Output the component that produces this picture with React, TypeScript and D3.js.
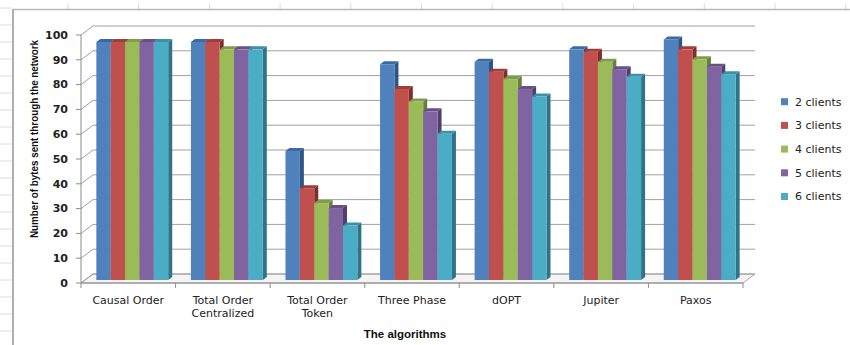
import React from "react";
import * as d3 from "d3";

const categories: string[][] = [
  ["Causal Order"],
  ["Total Order", "Centralized"],
  ["Total Order", "Token"],
  ["Three Phase"],
  ["dOPT"],
  ["Jupiter"],
  ["Paxos"],
];
const seriesNames = ["2 clients", "3 clients", "4 clients", "5 clients", "6 clients"];
const clients2 = [96, 96, 52, 87, 88, 93, 97];
const clients3 = [96, 96, 37, 77, 84, 92, 93];
const clients4 = [96, 93, 31, 72, 81, 88, 89];
const clients5 = [96, 93, 29, 68, 77, 85, 86];
const clients6 = [96, 93, 22, 59, 74, 82, 83];
const yTicks = [0, 10, 20, 30, 40, 50, 60, 70, 80, 90, 100];

const fronts = ["#4F81BD", "#C0504D", "#9BBB59", "#8064A2", "#4BACC6"];
const sides = ["#2E5684", "#7F2E2C", "#66803A", "#523F6E", "#2F7387"];
const tops = ["#3A6AA3", "#9E3D3A", "#7F9C48", "#684F88", "#3A92AA"];

const W = 850;
const H = 345;
const x0 = 81;
const x1 = 743;
const baseFront = 283;
const wallDx = 12;
const wallDy = -9;
const barDx = 4;
const barDy = -3;
const sideDx = 4;
const sideDy = -3;
const FONT = "'DejaVu Sans', sans-serif";

export default function App() {
  const series = [clients2, clients3, clients4, clients5, clients6];
  const idx = categories.map((_, i) => i);
  const xBand = d3.scaleBand<number>().domain(idx).range([x0, x1]).paddingInner(0.24).paddingOuter(0.12);
  const xCat = d3.scaleBand<number>().domain(idx).range([x0, x1]);
  const xSub = d3.scaleBand<number>().domain(d3.range(5)).range([0, xBand.bandwidth()]);
  const y = d3.scaleLinear().domain([0, 100]).range([0, 248]);

  const yFront = (v: number) => baseFront - y(v);
  const yBack = (v: number) => baseFront + wallDy - y(v);
  const yBar = (v: number) => baseFront + barDy - y(v);

  const bars: React.ReactNode[] = [];
  idx.forEach((ci) => {
    series.forEach((s, si) => {
      const v = s[ci];
      const bx = (xBand(ci) as number) + barDx + xSub(si)!;
      const bw = xSub.bandwidth();
      const top = yBar(v);
      const base = yBar(0);
      bars.push(
        <g key={`b${ci}-${si}`}>
          <polygon
            points={`${bx + bw},${top} ${bx + bw + sideDx},${top + sideDy} ${bx + bw + sideDx},${base + sideDy} ${bx + bw},${base}`}
            fill={sides[si]}
          />
          <polygon
            points={`${bx},${top} ${bx + sideDx},${top + sideDy} ${bx + bw + sideDx},${top + sideDy} ${bx + bw},${top}`}
            fill={tops[si]}
          />
          <rect x={bx} y={top} width={bw} height={base - top} fill={fronts[si]} />
        </g>
      );
    });
  });

  const sheetCols = d3.range(68, W, 70.7);
  const sheetRows = d3.range(8, H, 17);

  return (
    <svg width={W} height={H} style={{ position: "absolute", left: 0, top: 0, background: "#fff" }}>
      {sheetCols.map((cx, i) => (
        <line key={`sc${i}`} x1={cx} x2={cx} y1={3} y2={9} stroke="#d6dde9" strokeWidth={1} />
      ))}
      {sheetRows.map((ry, i) => (
        <line key={`sr${i}`} x1={0} x2={12} y1={ry} y2={ry} stroke="#d6dde9" strokeWidth={1} />
      ))}
      <line x1={13} x2={W} y1={9.5} y2={9.5} stroke="#b8b8b8" strokeWidth={1.5} />
      <line x1={13} x2={13} y1={9} y2={H} stroke="#b0b0b0" strokeWidth={2} />

      <polygon
        points={`${x0},${baseFront} ${x0 + wallDx},${baseFront + wallDy} ${x1 + wallDx},${baseFront + wallDy} ${x1},${baseFront}`}
        fill="#f4f4f4"
        stroke="#a6a6a6"
        strokeWidth={1}
      />
      {yTicks.map((t) => (
        <g key={`g${t}`}>
          <line x1={x0 + wallDx} x2={x1 + wallDx} y1={yBack(t)} y2={yBack(t)} stroke="#a0a0a0" strokeWidth={1} />
          <line x1={x0} x2={x0 + wallDx} y1={yFront(t)} y2={yBack(t)} stroke="#a0a0a0" strokeWidth={1} />
          <line x1={x0 - 5} x2={x0} y1={yFront(t)} y2={yFront(t)} stroke="#8c8c8c" strokeWidth={1} />
          <text x={68} y={yFront(t)} dy="0.35em" textAnchor="end" fontFamily={FONT} fontSize={11} fontWeight="bold" fill="#222">
            {t}
          </text>
        </g>
      ))}
      <line x1={x0} x2={x0} y1={yFront(100)} y2={yFront(0)} stroke="#8c8c8c" strokeWidth={1} />
      <line x1={x0} x2={x1} y1={baseFront} y2={baseFront} stroke="#8c8c8c" strokeWidth={1} />
      {d3.range(categories.length + 1).map((i) => {
        const tx = x0 + i * xCat.bandwidth();
        return <line key={`ct${i}`} x1={tx} x2={tx} y1={baseFront} y2={baseFront + 5} stroke="#8c8c8c" strokeWidth={1} />;
      })}

      {bars}

      {categories.map((lines, i) =>
        lines.map((l, li) => (
          <text
            key={`cl${i}-${li}`}
            x={(xCat(i) as number) + xCat.bandwidth() / 2}
            y={304 + li * 12.5}
            textAnchor="middle"
            fontFamily={FONT}
            fontSize={11}
            fill="#222"
          >
            {l}
          </text>
        ))
      )}

      <text x={405} y={338} textAnchor="middle" fontFamily="'Liberation Sans', sans-serif" fontWeight="bold" fontSize={11.5} fill="#111">
        The algorithms
      </text>
      <text
        transform={`translate(38,139) rotate(-90)`}
        textAnchor="middle"
        fontFamily="'Liberation Sans', sans-serif"
        fontWeight="bold"
        fontSize={10.5}
        fill="#111"
        textLength={198}
        lengthAdjust="spacingAndGlyphs"
      >
        Number of bytes sent through the network
      </text>

      {seriesNames.map((n, i) => (
        <g key={`lg${i}`} transform={`translate(781,${101.7 + i * 23.7})`}>
          <rect x={0} y={-3.5} width={7} height={7} fill={fronts[i]} />
          <text x={14} y={0} dy="0.35em" fontFamily={FONT} fontSize={11} fill="#222">
            {n}
          </text>
        </g>
      ))}
    </svg>
  );
}
